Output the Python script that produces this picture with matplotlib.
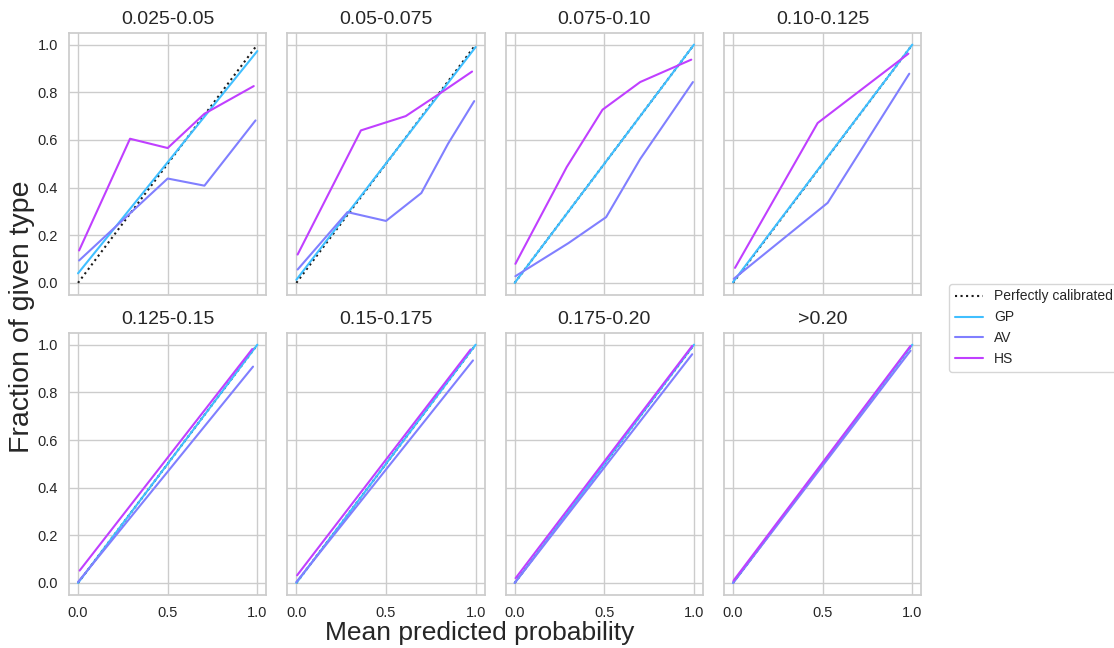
import matplotlib
matplotlib.use("Agg")
import seaborn as sns
from matplotlib import pyplot as plt

sns.set_theme(style="whitegrid")
plt.rcParams['font.family'] = ['Liberation Sans', 'DejaVu Sans']

titles = ['0.025-0.05', '0.05-0.075', '0.075-0.10', '0.10-0.125',
          '0.125-0.15', '0.15-0.175', '0.175-0.20', '>0.20']

# calibration curves per bin: (mean predicted, fraction positive)
gp_x = [[0.0, 1.0], [0.0, 1.0], [0.0, 1.0], [0.0, 1.0],
        [0.0, 1.0], [0.0, 1.0], [0.0, 1.0], [0.0, 1.0]]
gp_y = [[0.04, 0.973], [0.013, 0.99], [0.0, 1.0], [0.003, 1.0],
        [0.0, 1.0], [0.0, 1.0], [0.0, 1.0], [0.0, 1.0]]

av_x = [[0.006, 0.5, 0.705, 0.99],
        [0.007, 0.285, 0.5, 0.697, 0.846, 0.992],
        [0.004, 0.30, 0.51, 0.70, 0.994],
        [0.004, 0.528, 0.983],
        [0.0, 0.976],
        [0.0, 0.985],
        [0.0, 0.99],
        [0.0, 0.99]]
av_y = [[0.094, 0.438, 0.408, 0.682],
        [0.056, 0.297, 0.26, 0.377, 0.584, 0.763],
        [0.028, 0.167, 0.276, 0.52, 0.843],
        [0.017, 0.336, 0.878],
        [0.004, 0.908],
        [0.004, 0.934],
        [0.0, 0.96],
        [0.0, 0.975]]

hs_x = [[0.006, 0.29, 0.5, 0.705, 0.98],
        [0.007, 0.36, 0.61, 0.81, 0.98],
        [0.004, 0.29, 0.49, 0.70, 0.985],
        [0.011, 0.472, 0.978],
        [0.009, 0.972],
        [0.004, 0.972],
        [0.005, 0.99],
        [0.003, 0.99]]
hs_y = [[0.136, 0.605, 0.566, 0.71, 0.826],
        [0.119, 0.64, 0.70, 0.80, 0.887],
        [0.08, 0.486, 0.727, 0.843, 0.937],
        [0.063, 0.671, 0.962],
        [0.052, 0.982],
        [0.032, 0.98],
        [0.02, 0.995],
        [0.01, 0.995]]

cool = plt.get_cmap('cool')
c_gp, c_av, c_hs = cool(0.25), cool(0.5), cool(0.75)

fig, axes = plt.subplots(2, 4, figsize=(11.14, 6.48), dpi=100, sharex=True, sharey=True)
fig.subplots_adjust(left=0.062, right=0.827, top=0.9495, bottom=0.082, wspace=0.107, hspace=0.145)

for i, ax in enumerate(axes.flat):
    ax.plot([0, 1], [0, 1], ':', color='k', label='Perfectly calibrated')
    ax.plot(gp_x[i], gp_y[i], color=c_gp, label='GP')
    ax.plot(av_x[i], av_y[i], color=c_av, label='AV')
    ax.plot(hs_x[i], hs_y[i], color=c_hs, label='HS')
    ax.set_title(titles[i], fontsize=14)
    ax.set_xticks([0.0, 0.5, 1.0])
    ax.set_yticks([0.0, 0.2, 0.4, 0.6, 0.8, 1.0])
    ax.tick_params(labelsize=10.5, pad=2)
    for s in ax.spines.values():
        s.set_color('#cccccc')

handles, labels = axes[0, 0].get_legend_handles_labels()
fig.legend(handles, labels, loc='center left', bbox_to_anchor=(0.846, 0.494), fontsize=10)

fig.text(0.431, 0.023, 'Mean predicted probability', ha='center', va='center', fontsize=19)
fig.text(0.020, 0.511, 'Fraction of given type', ha='center', va='center', rotation=90, fontsize=20.5)

plt.savefig('out.png', dpi=100)
